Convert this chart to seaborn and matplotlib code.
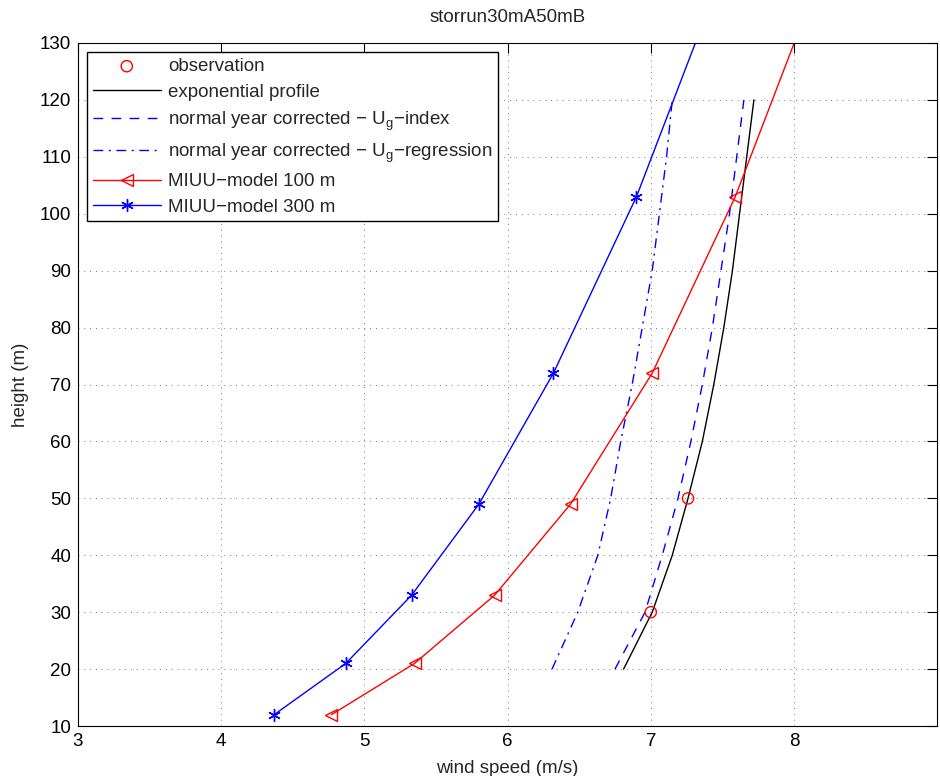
import numpy as np
import pandas as pd
import seaborn as sns
import matplotlib

matplotlib.use("Agg")
import matplotlib.pyplot as plt

# heights (m) and wind speeds (m/s)
OBS_H = [30, 50]
OBS_U = [7.00, 7.26]

PROFILE_H = [20, 30, 40, 50, 60, 70, 80, 90, 100, 110, 120]
EXP_U = [6.81, 7.01, 7.15, 7.26, 7.36, 7.44, 7.51, 7.57, 7.62, 7.67, 7.72]
INDEX_U = [6.75, 6.96, 7.08, 7.19, 7.28, 7.36, 7.43, 7.49, 7.55, 7.60, 7.65]
REGR_U = [6.31, 6.49, 6.63, 6.72, 6.79, 6.87, 6.94, 7.01, 7.06, 7.11, 7.15]

MIUU_H = [12, 21, 33, 49, 72, 103, 145]
MIUU100_U = [4.77, 5.35, 5.91, 6.44, 7.01, 7.59, 8.23]
MIUU300_U = [4.37, 4.87, 5.33, 5.80, 6.32, 6.90, 7.54]

FS = 13.5

sns.set_theme(style="white")
plt.rcParams["font.family"] = ["Liberation Sans", "DejaVu Sans"]
plt.rcParams["mathtext.fontset"] = "custom"
plt.rcParams["mathtext.rm"] = "Liberation Sans"

fig = plt.figure(figsize=(9.4, 7.76), dpi=100)
ax = fig.add_axes([0.083, 0.0644, 0.914, 0.8802])

sns.scatterplot(
    x=OBS_U, y=OBS_H, marker="o", s=65, facecolors="none", edgecolor="red",
    linewidth=1.0, label="observation", ax=ax, zorder=5,
)
sns.lineplot(
    x=EXP_U, y=PROFILE_H, sort=False, estimator=None, color="black",
    linewidth=1.0, label="exponential profile", ax=ax,
)
sns.lineplot(
    x=INDEX_U, y=PROFILE_H, sort=False, estimator=None, color="blue",
    linewidth=1.0, ax=ax,
    label="normal year corrected \u2212 U$_\\mathregular{g}$\u2212index",
).lines[-1].set_dashes([7, 6])
sns.lineplot(
    x=REGR_U, y=PROFILE_H, sort=False, estimator=None, color="blue",
    linewidth=1.0, ax=ax,
    label="normal year corrected \u2212 U$_\\mathregular{g}$\u2212regression",
).lines[-1].set_dashes([7, 4, 1.5, 4])
sns.lineplot(
    x=MIUU100_U, y=MIUU_H, sort=False, estimator=None, color="red",
    linewidth=1.0, marker="<", markersize=9, markerfacecolor="none",
    markeredgecolor="red", markeredgewidth=1.0, label="MIUU\u2212model 100 m", ax=ax,
)
sns.lineplot(
    x=MIUU300_U, y=MIUU_H, sort=False, estimator=None, color="blue",
    linewidth=1.0, marker=(6, 2, 0), markersize=9, markeredgecolor="blue",
    markeredgewidth=1.0, label="MIUU\u2212model 300 m", ax=ax,
)

ax.set_xlim(3, 9)
ax.set_ylim(10, 130)
ax.set_xticks(range(3, 9))
ax.set_yticks(range(10, 131, 10))
ax.tick_params(direction="in", top=True, right=True, length=7, width=0.8,
               labelsize=FS, colors="black", pad=5)
ax.grid(True, linestyle=(0, (1, 5)), color="#777777", linewidth=0.7)
for s in ax.spines.values():
    s.set_color("black")
    s.set_linewidth(0.8)

ax.set_xlabel("wind speed (m/s)", fontsize=FS, labelpad=7)
ax.set_ylabel("height (m)", fontsize=FS, labelpad=8)
ax.set_title("storrun30mA50mB", fontsize=FS, pad=15)

leg = ax.legend(loc="upper left", fontsize=FS, frameon=True, fancybox=False,
                edgecolor="black", framealpha=1, borderaxespad=0.5,
                handlelength=3.6, handletextpad=0.4, labelspacing=0.45,
                borderpad=0.3)
leg.get_frame().set_linewidth(1.0)

fig.savefig("out.png", dpi=100)
